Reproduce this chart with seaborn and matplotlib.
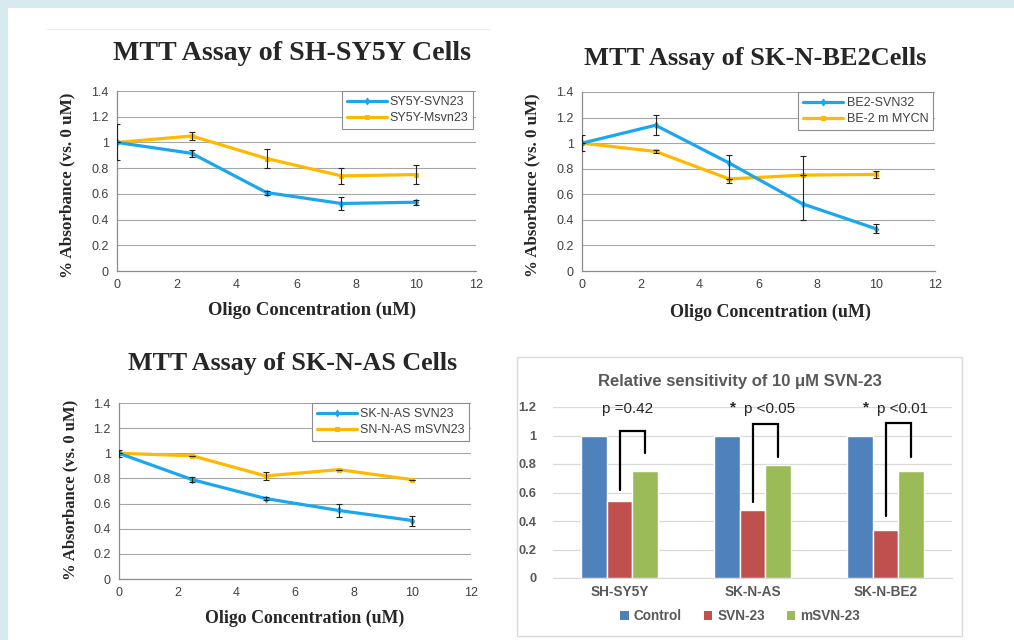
import matplotlib
matplotlib.use("Agg")
import numpy as np
import pandas as pd
import matplotlib.pyplot as plt
import seaborn as sns
from matplotlib.patches import Rectangle, Patch
from matplotlib.lines import Line2D

# ---- data ----
conc = [0, 2.5, 5, 7.5, 10]

sy5y_svn23 = [1.0, 0.915, 0.61, 0.525, 0.535]
sy5y_svn23_err = [0.14, 0.03, 0.015, 0.05, 0.02]
sy5y_msvn23 = [1.0, 1.05, 0.875, 0.74, 0.75]
sy5y_msvn23_err = [0.0, 0.03, 0.075, 0.06, 0.075]

be2_svn32 = [1.0, 1.14, 0.845, 0.525, 0.33]
be2_svn32_err_mid = [1.0, 1.14, 0.80, 0.65, 0.335]
be2_svn32_err = [0.06, 0.08, 0.11, 0.25, 0.035]
be2_mycn = [1.0, 0.935, 0.72, 0.75, 0.755]
be2_mycn_err = [0.0, 0.015, 0.0, 0.0, 0.03]

as_svn23 = [1.0, 0.79, 0.64, 0.545, 0.465]
as_svn23_err = [0.03, 0.02, 0.01, 0.05, 0.04]
as_msvn23 = [1.0, 0.98, 0.82, 0.87, 0.79]
as_msvn23_err = [0.0, 0.0, 0.03, 0.0, 0.0]

cell_lines = ["SH-SY5Y", "SK-N-AS", "SK-N-BE2"]
treatments = ["Control", "SVN-23", "mSVN-23"]
control = [1.0, 1.0, 1.0]
svn23 = [0.54, 0.475, 0.335]
msvn23 = [0.75, 0.795, 0.75]
p_labels = ["p =0.42", "p <0.05", "p <0.01"]
p_star = [False, True, True]
bracket_top = [1.03, 1.08, 1.09]
bracket_left_end = [0.62, 0.53, 0.435]
bracket_right_end = [0.88, 0.85, 0.85]

BLUE_LINE = "#1ba7ee"
GOLD_LINE = "#ffb900"
BAR_COLORS = ["#4f81bd", "#c0504d", "#9bbb59"]

sns.set_style("white")
plt.rcParams["font.family"] = ["Liberation Sans", "DejaVu Sans"]

W, H = 1014, 640
fig = plt.figure(figsize=(W / 100, H / 100), dpi=100, facecolor="#d7eaf0")
fig.add_artist(Rectangle((8 / W, 0), 1 - 8 / W, 1 - 8 / H, transform=fig.transFigure,
                         facecolor="white", edgecolor="none", zorder=-2))
fig.add_artist(Line2D([47 / W, 490 / W], [1 - 29 / H, 1 - 29 / H], transform=fig.transFigure,
                      color="#ececec", lw=0.8, zorder=-1))


def axes_px(l, t, r, b):
    return fig.add_axes([l / W, 1 - b / H, (r - l) / W, (b - t) / H])


def ftext(x, y, s, **kw):
    fig.text(x / W, 1 - y / H, s, **kw)


serif = ["Liberation Serif", "DejaVu Serif"]


def line_panel(ax, s1, e1, lab1, s2, e2, lab2, mid1=None, leg_x=0.99):
    sns.lineplot(x=conc, y=s1, ax=ax, color=BLUE_LINE, lw=2.3, marker="d", ms=3.5,
                 mec=BLUE_LINE, label=lab1, zorder=4)
    sns.lineplot(x=conc, y=s2, ax=ax, color=GOLD_LINE, lw=2.3, marker="s", ms=3,
                 mec=GOLD_LINE, label=lab2, zorder=3)
    ax.errorbar(conc, mid1 if mid1 is not None else s1, yerr=e1, fmt="none",
                ecolor="#222222", elinewidth=0.8, capsize=2, capthick=0.8, zorder=5)
    ax.errorbar(conc, s2, yerr=e2, fmt="none", ecolor="#222222", elinewidth=0.8,
                capsize=2, capthick=0.8, zorder=5)
    ax.set_xlim(0, 12)
    ax.set_ylim(0, 1.4)
    ax.set_xticks(np.arange(0, 13, 2))
    ax.set_yticks(np.arange(0, 1.41, 0.2))
    ax.set_yticklabels([f"{v:g}" for v in np.round(np.arange(0, 1.41, 0.2), 1)])
    ax.grid(axis="y", color="#a6a6a6", lw=0.8)
    ax.set_axisbelow(True)
    for s in ["top", "right"]:
        ax.spines[s].set_visible(False)
    for s in ["left", "bottom"]:
        ax.spines[s].set_color("#8c8c8c")
        ax.spines[s].set_linewidth(0.9)
    ax.tick_params(direction="out", length=3, width=0.8, color="#8c8c8c",
                   labelsize=9, labelcolor="#404040", pad=3)
    leg = ax.legend(loc="upper right", bbox_to_anchor=(leg_x, 1.0), frameon=True,
                    fancybox=False, edgecolor="#8c8c8c", framealpha=1, fontsize=9,
                    borderaxespad=0, handlelength=3.2, handletextpad=0.25,
                    labelspacing=0.35, borderpad=0.4)
    leg.get_frame().set_linewidth(0.8)
    for t in leg.get_texts():
        t.set_color("#404040")


# ---- panel 1 ----
ax1 = axes_px(117, 91, 476, 271)
line_panel(ax1, sy5y_svn23, sy5y_svn23_err, "SY5Y-SVN23",
           sy5y_msvn23, sy5y_msvn23_err, "SY5Y-Msvn23", leg_x=0.993)
ftext(292, 60, "MTT Assay of SH-SY5Y Cells", family=serif, weight="bold",
      size=20.2, ha="center", va="baseline")
ftext(312, 315, "Oligo Concentration (uM)", family=serif, weight="bold",
      size=13.4, ha="center", va="baseline")
ftext(67, 185, "% Absorbance (vs. 0 uM)", family=serif, weight="bold",
      size=12.3, ha="center", va="center", rotation=90)

# ---- panel 2 ----
ax2 = axes_px(582, 92, 935, 271)
line_panel(ax2, be2_svn32, be2_svn32_err, "BE2-SVN32",
           be2_mycn, be2_mycn_err, "BE-2 m MYCN", mid1=be2_svn32_err_mid, leg_x=0.995)
ftext(755, 65, "MTT Assay of SK-N-BE2Cells", family=serif, weight="bold",
      size=19, ha="center", va="baseline")
ftext(770, 317, "Oligo Concentration (uM)", family=serif, weight="bold",
      size=13, ha="center", va="baseline")
ftext(532, 185, "% Absorbance (vs. 0 uM)", family=serif, weight="bold",
      size=12.2, ha="center", va="center", rotation=90)

# ---- panel 3 ----
ax3 = axes_px(119, 403, 471, 579)
line_panel(ax3, as_svn23, as_svn23_err, "SK-N-AS SVN23",
           as_msvn23, as_msvn23_err, "SN-N-AS mSVN23", leg_x=0.995)
ftext(293, 370, "MTT Assay of SK-N-AS Cells", family=serif, weight="bold",
      size=18.7, ha="center", va="baseline")
ftext(305, 623, "Oligo Concentration (uM)", family=serif, weight="bold",
      size=12.9, ha="center", va="baseline")
ftext(70, 490, "% Absorbance (vs. 0 uM)", family=serif, weight="bold",
      size=12, ha="center", va="center", rotation=90)

# ---- panel 4: bar chart ----
fig.add_artist(Rectangle((517 / W, 1 - 636 / H), (962 - 517) / W, (636 - 357) / H,
                         transform=fig.transFigure, facecolor="white",
                         edgecolor="#d9d9d9", lw=1, zorder=-1))
ax4 = axes_px(553, 407, 952, 578)
df_bar = pd.DataFrame({
    "line": cell_lines * 3,
    "treatment": [t for t in treatments for _ in cell_lines],
    "value": control + svn23 + msvn23,
})
sns.barplot(data=df_bar, x="line", y="value", hue="treatment", hue_order=treatments,
            order=cell_lines, palette=BAR_COLORS, width=0.575, gap=0, errorbar=None,
            saturation=1, ax=ax4, legend=False, zorder=3)
ax4.set_xlim(-0.5, 2.5)
ax4.set_ylim(0, 1.2)
ax4.set_yticks(np.arange(0, 1.21, 0.2))
ax4.set_yticklabels([f"{v:g}" for v in np.round(np.arange(0, 1.21, 0.2), 1)])
ax4.grid(axis="y", color="#d9d9d9", lw=0.9)
ax4.set_axisbelow(True)
ax4.set_xlabel("")
ax4.set_ylabel("")
ax4.patch.set_alpha(0)
for s in ["top", "right", "left"]:
    ax4.spines[s].set_visible(False)
ax4.spines["bottom"].set_color("#d9d9d9")
ax4.tick_params(length=0, labelcolor="#595959")
ax4.tick_params(axis="y", pad=12, labelsize=9.3)
ax4.tick_params(axis="x", pad=5, labelsize=9.8)
for t in ax4.get_xticklabels() + ax4.get_yticklabels():
    t.set_fontweight("bold")

off = 0.575 / 3
for i in range(len(cell_lines)):
    xl, xr = i, i + off
    ax4.plot([xl, xl, xr, xr], [bracket_left_end[i], bracket_top[i], bracket_top[i],
                                bracket_right_end[i]], color="black", lw=1.6,
             solid_joinstyle="miter", zorder=4, clip_on=False)
    tx = i + (0.06 if not p_star[i] else 0.13)
    ax4.text(tx, 1.158, p_labels[i], ha="center", va="baseline", fontsize=11,
             color="#262626", clip_on=False)
    if p_star[i]:
        ax4.text(i - 0.145, 1.20, "*", ha="center", va="center", fontsize=11,
                 color="#262626", fontweight="bold", clip_on=False)

ftext(740, 386, "Relative sensitivity of 10 \u03bcM SVN-23", weight="bold", size=12,
      color="#595959", ha="center", va="baseline")
handles = [Patch(facecolor=c, edgecolor="none") for c in BAR_COLORS]
leg4 = fig.legend(handles, treatments, loc="center", bbox_to_anchor=(740 / W, 1 - 616 / H),
                  ncol=3, frameon=False, fontsize=9.8, handlelength=0.65,
                  handleheight=0.65, handletextpad=0.35, columnspacing=1.6)
for t in leg4.get_texts():
    t.set_color("#595959")
    t.set_fontweight("bold")

fig.savefig("out.png", dpi=100, facecolor=fig.get_facecolor())
